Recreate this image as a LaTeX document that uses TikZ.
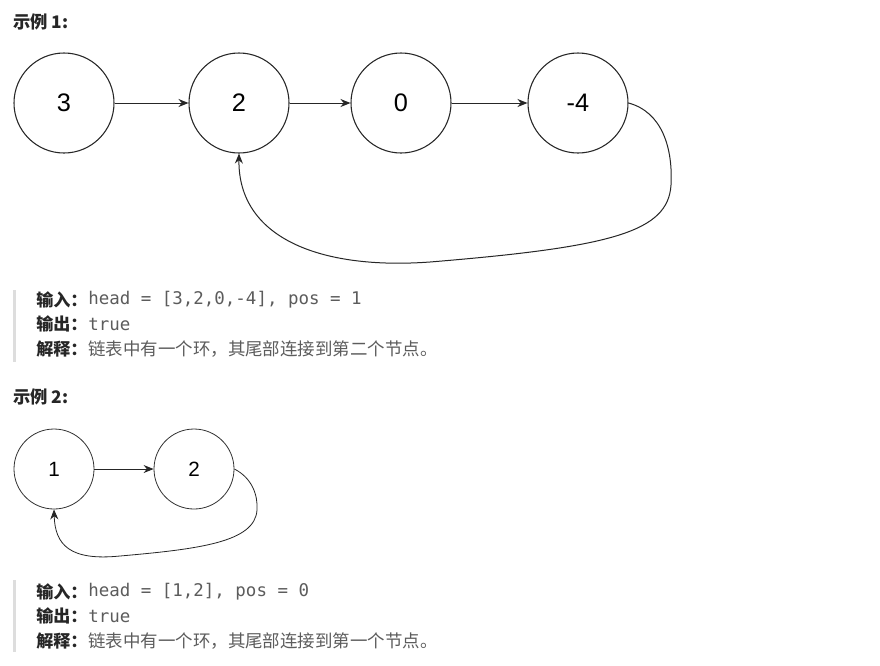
\documentclass[tikz,border=0pt]{standalone}
\usepackage{fontspec}
\setmainfont{Liberation Sans}
\newfontfamily\cjk{Noto Sans CJK SC}
\newfontfamily\mono{DejaVu Sans Mono}
\usetikzlibrary{arrows.meta}
\definecolor{labelc}{HTML}{262626}
\definecolor{textc}{HTML}{5C5C5C}
\definecolor{barc}{HTML}{DDDDDD}
\begin{document}
\begin{tikzpicture}[x=0.75pt,y=-0.75pt,
  big/.style={circle,draw=black!85,line width=0.8pt,minimum size=75pt,inner sep=0pt,font=\fontsize{19}{19}\selectfont},
  small/.style={circle,draw=black!80,line width=0.6pt,minimum size=60pt,inner sep=0pt,font=\fontsize{15.5}{16}\selectfont},
  link/.style={draw=black!85,line width=0.75pt,-{Stealth[length=7.5pt,width=6pt]}},
  title/.style={anchor=west,inner sep=0pt,text=labelc,font=\cjk\bfseries\fontsize{13}{15}\selectfont},
  lab/.style={anchor=west,inner sep=0pt,text=labelc,font=\cjk\bfseries\fontsize{12.8}{14}\selectfont},
  code/.style={anchor=west,inner sep=0pt,text=textc,font=\mono\fontsize{13.1}{14}\selectfont},
  expl/.style={anchor=west,inner sep=0pt,text=textc,font=\cjk\fontsize{13.1}{14}\selectfont}]
\useasboundingbox (0,0) rectangle (880,665);
\fill[white] (0,0) rectangle (880,665);
% Example 1
\node[title] (t1) at (13,22) {示例 1:};
\node[big] (a) at (64,103) {3};
\node[big] (b) at (239,103) {2};
\node[big] (c) at (401,103) {0};
\node[big] (d) at (578,103) {-4};
\draw[link] (a) -- (b);
\draw[link] (b) -- (c);
\draw[link] (c) -- (d);
\draw[link] (d.east) .. controls (662,112) and (673,148) .. (671,185)
  .. controls (668,232) and (612,247) .. (430,262)
  .. controls (320,270) and (238,238) .. (b.south);
\fill[barc] (12.5,290) rectangle (15.5,362);
\node[lab] (i1) at (36,300) {输入：};
\node[code] (c1) at (88,300) {head = [3,2,0,-4], pos = 1};
\node[lab] (o1) at (36,324) {输出：};
\node[code] (c2) at (88,324) {true};
\node[lab] (e1) at (36,349) {解释：};
\node[expl] (x1) at (88,349) {链表中有一个环，其尾部连接到第二个节点。};
% Example 2
\node[title] (t2) at (13,397) {示例 2:};
\node[small] (p) at (54,469) {1};
\node[small] (q) at (194,469) {2};
\draw[link] (p) -- (q);
\draw[link,line width=0.6pt] (q.east) .. controls (252,478) and (258,495) .. (257,510)
  .. controls (255,542) and (200,549) .. (120,556)
  .. controls (70,561) and (55,545) .. (p.south);
\fill[barc] (12.5,580) rectangle (15.5,652);
\node[lab] (i2) at (36,592) {输入：};
\node[code] (c3) at (88,592) {head = [1,2], pos = 0};
\node[lab] (o2) at (36,616) {输出：};
\node[code] (c4) at (88,616) {true};
\node[lab] (e2) at (36,641) {解释：};
\node[expl] (x2) at (88,641) {链表中有一个环，其尾部连接到第一个节点。};
\end{tikzpicture}
\end{document}
